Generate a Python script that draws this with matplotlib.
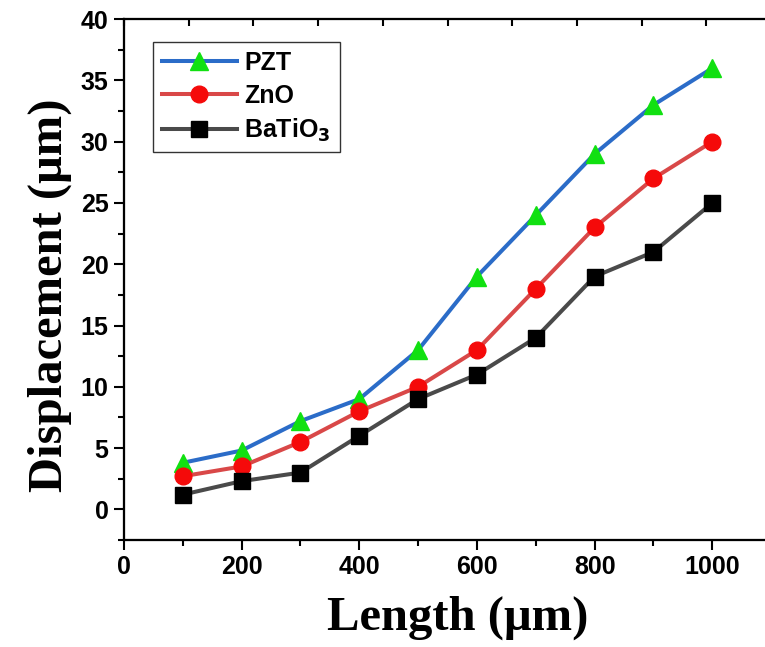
import numpy as np
import matplotlib
matplotlib.use('Agg')
import matplotlib.pyplot as plt

# Data
length_um = [100, 200, 300, 400, 500, 600, 700, 800, 900, 1000]
pzt = [3.8, 4.8, 7.2, 9.0, 13.0, 19.0, 24.0, 29.0, 33.0, 36.0]
zno = [2.7, 3.5, 5.5, 8.0, 10.0, 13.0, 18.0, 23.0, 27.0, 30.0]
batio3 = [1.2, 2.3, 3.0, 6.0, 9.0, 11.0, 14.0, 19.0, 21.0, 25.0]

x_ticks = [0, 200, 400, 600, 800, 1000]
y_ticks = [0, 5, 10, 15, 20, 25, 30, 35, 40]

plt.rcParams.update({
    'font.family': ['Liberation Sans', 'DejaVu Sans'],
    'font.weight': 'bold',
    'axes.linewidth': 1.5,
})

fig = plt.figure(figsize=(7.65, 6.47), dpi=100)
ax = fig.add_axes([0.162, 0.1654, 0.846, 0.805])

ax.plot(length_um, pzt, color='#2b6cc8', lw=2.9, marker='^', ms=13,
        mfc='#11e011', mec='#11e011', label='PZT', zorder=3)
ax.plot(length_um, zno, color='#d94848', lw=2.9, marker='o', ms=12,
        mfc='#f50a0a', mec='#f50a0a', label='ZnO', zorder=3)
ax.plot(length_um, batio3, color='#4a4a4a', lw=2.9, marker='s', ms=11,
        mfc='black', mec='black', label='BaTiO$_3$', zorder=3)

ax.set_xlim(0, 1100)
ax.set_ylim(-2.5, 40)
ax.set_xticks(x_ticks)
ax.set_xticks(np.arange(100, 1100, 200), minor=True)
ax.set_yticks(y_ticks)
ax.set_yticks(np.arange(-2.5, 40, 5), minor=True)
ax.tick_params(which='major', direction='out', length=7, width=1.5,
               labelsize=18, top=False, right=False, pad=4)
ax.tick_params(which='minor', direction='out', length=4, width=1.5,
               top=False, right=False)

ax.set_xlabel('Length (μm)', family='Liberation Serif', fontweight='bold',
              fontsize=35, labelpad=12)
ax.set_ylabel('Displacement (μm)', family='Liberation Serif', fontweight='bold',
              fontsize=35, labelpad=6)
ax.xaxis.label.set_x(0.516)
ax.yaxis.label.set_y(0.47)

# top and right axes (tick marks only, no labels)
ax_top = ax.twiny()
ax_top.set_xlim(0, 1100)
ax_top.set_xticks(np.arange(0, 1101, 110))
ax_top.tick_params(axis='x', direction='in', length=5, width=1.5,
                   labeltop=False)
ax_right = ax.twinx()
ax_right.set_ylim(0, 5)
ax_right.set_yticks(range(6))
ax_right.tick_params(axis='y', direction='in', length=4, width=1.5,
                     labelright=False)

leg = ax.legend(loc='upper left', bbox_to_anchor=(0.045, 0.956), fontsize=18,
                frameon=True, fancybox=False, edgecolor='black',
                handlelength=3.0, handletextpad=0.3, labelspacing=0.35,
                borderpad=0.35, borderaxespad=0)
leg.get_frame().set_linewidth(1.0)
for t in leg.get_texts():
    t.set_fontweight('bold')

fig.savefig('out.png', dpi=100)
